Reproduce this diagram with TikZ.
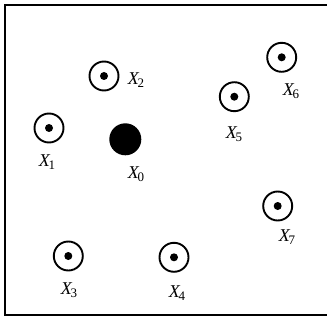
\documentclass[tikz,border=0pt]{standalone}
\usepackage{fontspec}
\setmainfont{Liberation Serif}
\newcommand\xlab[1]{\textit{X}\kern-0.1em\raisebox{-0.4ex}{\fontsize{13}{14}\selectfont #1}}
\begin{document}
\begin{tikzpicture}[x=1pt,y=-1pt,
  sensor/.style={circle,draw,line width=1.9pt,minimum size=29pt,inner sep=0pt},
  sdot/.style={circle,fill,minimum size=8pt,inner sep=0pt},
  target/.style={circle,fill,minimum size=32pt,inner sep=0pt},
  lab/.style={font=\fontsize{18}{19}\selectfont,inner sep=0pt}]
\useasboundingbox (0,0) rectangle (327,321);
\draw[line width=2pt] (5,5) rectangle (328,315);
\node[target] (x0) at (125.3,139.3) {};
\foreach \n/\x/\y in {1/49/128, 2/104/76, 3/68.3/256, 4/174/257.3, 5/234.3/96.7, 6/281.7/57.3, 7/277.7/206}{
  \node[sensor] (x\n) at (\x,\y) {};
  \node[sdot] (d\n) at (x\n.center) {};
}
\node[lab] (l0) at (136,174) {\xlab{0}};
\node[lab] (l1) at (47,162) {\xlab{1}};
\node[lab] (l2) at (136,80) {\xlab{2}};
\node[lab] (l3) at (69,290) {\xlab{3}};
\node[lab] (l4) at (177,293) {\xlab{4}};
\node[lab] (l5) at (234,134) {\xlab{5}};
\node[lab] (l6) at (291,91) {\xlab{6}};
\node[lab] (l7) at (287,237) {\xlab{7}};
\end{tikzpicture}
\end{document}
